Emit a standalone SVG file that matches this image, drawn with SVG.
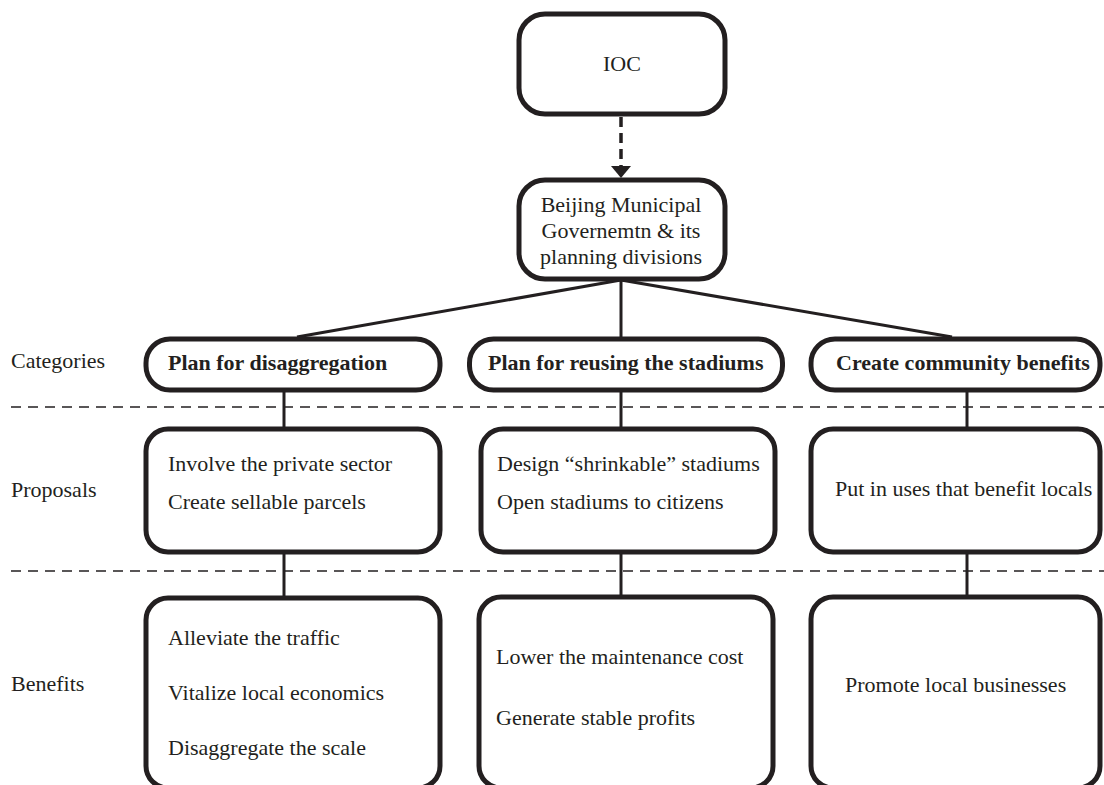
<svg xmlns="http://www.w3.org/2000/svg" width="1104" height="785" viewBox="0 0 1104 785">
<style>
  .box { fill: #ffffff; stroke: #231f20; stroke-width: 5; }
  .t { font-family: "Liberation Serif", "Times New Roman", serif; font-size: 22px; fill: #231f20; }
  .b { font-weight: bold; }
  .c { text-anchor: middle; }
  .conn { stroke: #231f20; stroke-width: 3; fill: none; }
  .sep { stroke: #231f20; stroke-width: 1.5; stroke-dasharray: 10 7; fill: none; }
</style>
<rect width="1104" height="785" fill="#ffffff"/>

<g id="separators">
  <line class="sep" x1="11" y1="407" x2="1104" y2="407"/>
  <line class="sep" x1="11" y1="571" x2="1104" y2="571"/>
</g>

<g id="connectors">
  <line x1="621" y1="117" x2="621" y2="166" stroke="#231f20" stroke-width="3.5" stroke-dasharray="10 6"/>
  <polygon points="611,166 631,166 621,178" fill="#231f20"/>
  <line class="conn" x1="621" y1="280" x2="297" y2="337"/>
  <line class="conn" x1="621" y1="280" x2="621" y2="337"/>
  <line class="conn" x1="621" y1="280" x2="952" y2="337"/>
  <line class="conn" x1="284" y1="390" x2="284" y2="428"/>
  <line class="conn" x1="621" y1="390" x2="621" y2="428"/>
  <line class="conn" x1="967" y1="390" x2="967" y2="428"/>
  <line class="conn" x1="284" y1="552" x2="284" y2="597"/>
  <line class="conn" x1="621" y1="552" x2="621" y2="597"/>
  <line class="conn" x1="967" y1="552" x2="967" y2="597"/>
</g>

<g id="labels">
  <text class="t" x="11" y="368">Categories</text>
  <text class="t" x="11" y="497">Proposals</text>
  <text class="t" x="11" y="691">Benefits</text>
</g>

<g id="ioc">
  <rect class="box" x="519" y="14" width="206" height="100" rx="26"/>
  <text class="t c" x="622" y="71">IOC</text>
</g>

<g id="beijing">
  <rect class="box" x="519" y="180" width="206" height="99" rx="26"/>
  <text class="t c" x="621" y="212">Beijing Municipal</text>
  <text class="t c" x="621" y="238">Governemtn &amp; its</text>
  <text class="t c" x="621" y="264">planning divisions</text>
</g>

<g id="cat-disaggregation">
  <rect class="box" x="146" y="339" width="294" height="51" rx="24"/>
  <text class="t b" x="168" y="370">Plan for disaggregation</text>
</g>
<g id="cat-reusing">
  <rect class="box" x="469.5" y="339" width="313" height="51" rx="24"/>
  <text class="t b" x="488" y="370">Plan for reusing the stadiums</text>
</g>
<g id="cat-community">
  <rect class="box" x="811" y="339" width="289" height="51" rx="24"/>
  <text class="t b" x="836" y="370">Create community benefits</text>
</g>

<g id="prop-disaggregation">
  <rect class="box" x="146" y="429" width="294" height="123" rx="22"/>
  <text class="t" x="168" y="471">Involve the private sector</text>
  <text class="t" x="168" y="509">Create sellable parcels</text>
</g>
<g id="prop-reusing">
  <rect class="box" x="481" y="429" width="294" height="123" rx="22"/>
  <text class="t" x="497" y="471">Design “shrinkable” stadiums</text>
  <text class="t" x="497" y="509">Open stadiums to citizens</text>
</g>
<g id="prop-community">
  <rect class="box" x="811" y="429" width="289" height="123" rx="22"/>
  <text class="t" x="835" y="496">Put in uses that benefit locals</text>
</g>

<g id="ben-disaggregation">
  <rect class="box" x="146" y="598" width="294" height="190" rx="22"/>
  <text class="t" x="168" y="645">Alleviate the traffic</text>
  <text class="t" x="168" y="700">Vitalize local economics</text>
  <text class="t" x="168" y="755">Disaggregate the scale</text>
</g>
<g id="ben-reusing">
  <rect class="box" x="479" y="597" width="294" height="191" rx="22"/>
  <text class="t" x="496" y="664">Lower the maintenance cost</text>
  <text class="t" x="496" y="725">Generate stable profits</text>
</g>
<g id="ben-community">
  <rect class="box" x="811" y="597" width="289" height="191" rx="22"/>
  <text class="t" x="845" y="692">Promote local businesses</text>
</g>
</svg>
